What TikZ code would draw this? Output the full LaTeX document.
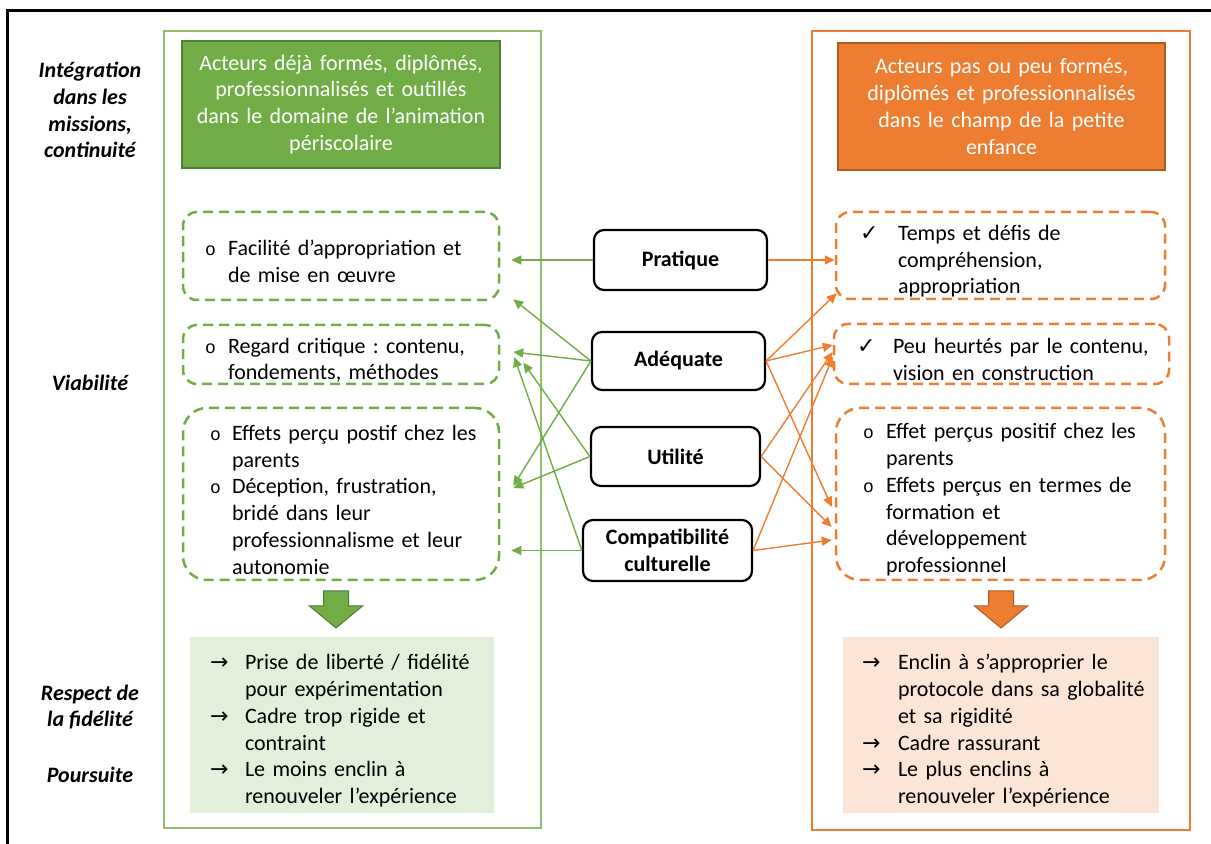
\documentclass[tikz,border=0pt]{standalone}
\usepackage{fontspec}
\setmainfont{Carlito}
\newfontfamily\cour{Liberation Mono}
\newfontfamily\symf{DejaVu Sans}
\usetikzlibrary{arrows.meta}
\frenchspacing

\definecolor{gfill}{HTML}{70AD47}
\definecolor{gdark}{HTML}{507E32}
\definecolor{gline}{HTML}{8CC168}
\definecolor{gpale}{HTML}{E2EFDA}
\definecolor{ofill}{HTML}{ED7D31}
\definecolor{odark}{HTML}{AE5A21}
\definecolor{opale}{HTML}{FBE5D6}

\newcommand\txt{\fontsize{11pt}{13.4pt}\selectfont}
\newcommand\circb{{\cour\fontsize{9pt}{10pt}\selectfont o}}
% indent, hang, symbol, text
\newcommand\itm[4]{\par\hangindent=\dimexpr#1+#2\relax\hangafter=1\noindent\hspace*{#1}\makebox[#2][l]{#3}#4\par}

\begin{document}
\begin{tikzpicture}[x=0.5pt, y=-0.5pt,
                    every node/.style={font=\txt, inner sep=0pt},
                    hdrbox/.style={draw, line width=1pt, text=white, align=center,
                                   text width=155pt, minimum height=63.5pt},
                    dashbox/.style={draw, line width=1.25pt, dash pattern=on 5pt off 3pt,
                                    rounded corners=7pt, align=left},
                    critbox/.style={draw, line width=1.1pt, rounded corners=5pt,
                                    align=center, font=\txt\bfseries},
                    resbox/.style={align=left, minimum height=88pt},
                    lbl/.style={align=center, font=\txt\bfseries\itshape},
                    garr/.style={draw=gfill, line width=0.7pt, -{Triangle[length=5pt,width=4.5pt]}},
                    oarr/.style={draw=ofill, line width=0.7pt, -{Triangle[length=5pt,width=4.5pt]}}]
  \useasboundingbox (0,0) rectangle (1211,844);

  % frames
  \draw[line width=1.5pt] (7,900) -- (7,11) -- (1250,11);
  \draw[gline, line width=0.75pt] (164,31) rectangle (541,828);
  \draw[ofill, line width=1.25pt] (812,31) rectangle (1190,830);

  % left labels
  \node[lbl] (lint) at (90,110) {Intégration\\dans les\\missions,\\continuité};
  \node[lbl] (lvia) at (90,383) {Viabilité};
  \node[lbl] (lres) at (90,707) {Respect de\\la fidélité};
  \node[lbl] (lpou) at (90,775) {Poursuite};

  % headers
  \node[hdrbox, fill=gfill, draw=gdark, minimum width=159pt] (hdg) at (341,104.5)
    {Acteurs déjà formés, diplômés,\\professionnalisés et outillés\\dans le domaine de l’animation\\périscolaire};
  \node[hdrbox, fill=ofill, draw=odark, minimum width=163.5pt] (hdo) at (1001.5,106.5)
    {Acteurs pas ou peu formés,\\diplômés et professionnalisés\\dans le champ de la petite\\enfance};

  % green side
  \node[dashbox, draw=gfill, text width=148pt, minimum width=158pt, minimum height=44pt] (b1) at (341,256)
    {\itm{6pt}{11.5pt}{\circb}{Facilité d’appropriation et\newline de mise en œuvre}};
  \node[dashbox, draw=gfill, text width=148pt, minimum width=158pt, minimum height=29.5pt] (b2) at (341,354.5)
    {\itm{6pt}{11.5pt}{\circb}{Regard critique : contenu,\newline fondements, méthodes}};
  \node[dashbox, draw=gfill, rounded corners=12pt, text width=148pt, minimum width=158pt, minimum height=86pt] (b3) at (341,494)
    {\itm{8.5pt}{11pt}{\circb}{Effets perçu postif chez les\newline parents}
     \itm{8.5pt}{11pt}{\circb}{Déception, frustration,\newline bridé dans leur\newline professionnalisme et leur\newline autonomie}};

  % orange side
  \node[dashbox, draw=ofill, text width=154.5pt, minimum width=164.5pt, minimum height=43.5pt] (r1) at (1000.5,255.5)
    {\itm{7pt}{19pt}{\symf ✓}{Temps et défis de\newline compréhension,\newline appropriation}};
  \node[dashbox, draw=ofill, text width=157.5pt, minimum width=167.5pt, minimum height=30pt] (r2) at (1001.5,354)
    {\itm{6.5pt}{18pt}{\symf ✓}{Peu heurtés par le contenu,\newline vision en construction}};
  \node[dashbox, draw=ofill, rounded corners=12pt, text width=154.5pt, minimum width=164.5pt, minimum height=86pt] (r3) at (1000.5,494)
    {\itm{8.5pt}{11.5pt}{\circb}{Effet perçus positif chez les\newline parents}
     \itm{8.5pt}{11.5pt}{\circb}{Effets perçus en termes de\newline formation et\newline développement\newline professionnel}};

  % criteria
  \node[critbox, minimum width=86.5pt, minimum height=30pt] (prat) at (680.5,260) {Pratique};
  \node[critbox, minimum width=86.5pt, minimum height=29pt] (adeq) at (678.5,361) {Adéquate};
  \node[critbox, minimum width=84.5pt, minimum height=29.5pt] (util) at (675.5,456.5) {Utilité};
  \node[critbox, minimum width=84.5pt, minimum height=30.5pt] (comp) at (667.5,550.5) {Compatibilité\\culturelle};

  % outcomes
  \filldraw[fill=gfill, draw=gdark, line width=0.5pt]
    (323.5,591) -- (348.5,591) -- (348.5,606) -- (362.5,606) -- (336,628)
    -- (309.5,606) -- (323.5,606) -- cycle;
  \filldraw[fill=ofill, draw=odark, line width=0.5pt]
    (988.5,591) -- (1013.5,591) -- (1013.5,606) -- (1027.5,606) -- (1001,628)
    -- (974.5,606) -- (988.5,606) -- cycle;
  \node[resbox, fill=gpale, text width=142pt, minimum width=152pt] (bg) at (342,725)
    {\itm{5pt}{17.5pt}{\symf →}{Prise de liberté / fidélité\newline pour expérimentation}
     \itm{5pt}{17.5pt}{\symf →}{Cadre trop rigide et\newline contraint}
     \itm{5pt}{17.5pt}{\symf →}{Le moins enclin à\newline renouveler l’expérience}};
  \node[resbox, fill=opale, text width=148pt, minimum width=158pt] (bo) at (1001,725)
    {\itm{4.5pt}{18pt}{\symf →}{Enclin à s’approprier le\newline protocole dans sa globalité\newline et sa rigidité}
     \itm{4.5pt}{18pt}{\symf →}{Cadre rassurant}
     \itm{4.5pt}{18pt}{\symf →}{Le plus enclins à\newline renouveler l’expérience}};

  % green links
  \draw[garr] (prat.west) -- ([xshift=5.5pt,yshift=-2pt]b1.east);
  \draw[garr] (adeq.west) -- ([xshift=6.5pt,yshift=1pt]b1.south east);
  \draw[garr] (adeq.west) -- ([xshift=6.5pt,yshift=1.25pt]b2.east);
  \draw[garr] (adeq.west) -- ([xshift=6.5pt,yshift=4pt]b3.east);
  \draw[garr] (util.west) -- ([xshift=11.5pt,yshift=-4pt]b2.east);
  \draw[garr] (util.west) -- ([xshift=6.5pt,yshift=3pt]b3.east);
  \draw[garr] (comp.west) -- ([xshift=7pt,yshift=-1.25pt]b2.east);
  \draw[garr] (comp.west) -- ([xshift=5.5pt,yshift=-28.25pt]b3.east);

  % orange links
  \draw[oarr] (prat.east) -- ([yshift=-2.25pt]r1.west);
  \draw[oarr] (adeq.east) -- ([xshift=1pt,yshift=3.5pt]r1.south west);
  \draw[oarr] (adeq.east) -- ([yshift=4.5pt]r2.west);
  \draw[oarr] (adeq.east) -- ([xshift=-1.5pt,yshift=-6.5pt]r3.west);
  \draw[oarr] (util.east) -- ([yshift=1pt]r2.west);
  \draw[oarr] (util.east) -- ([xshift=-1.5pt,yshift=-16.5pt]r3.west);
  \draw[oarr] (comp.east) -- ([yshift=-1.5pt]r2.west);
  \draw[oarr] (comp.east) -- ([xshift=-1.5pt,yshift=-23pt]r3.west);
\end{tikzpicture}
\end{document}
